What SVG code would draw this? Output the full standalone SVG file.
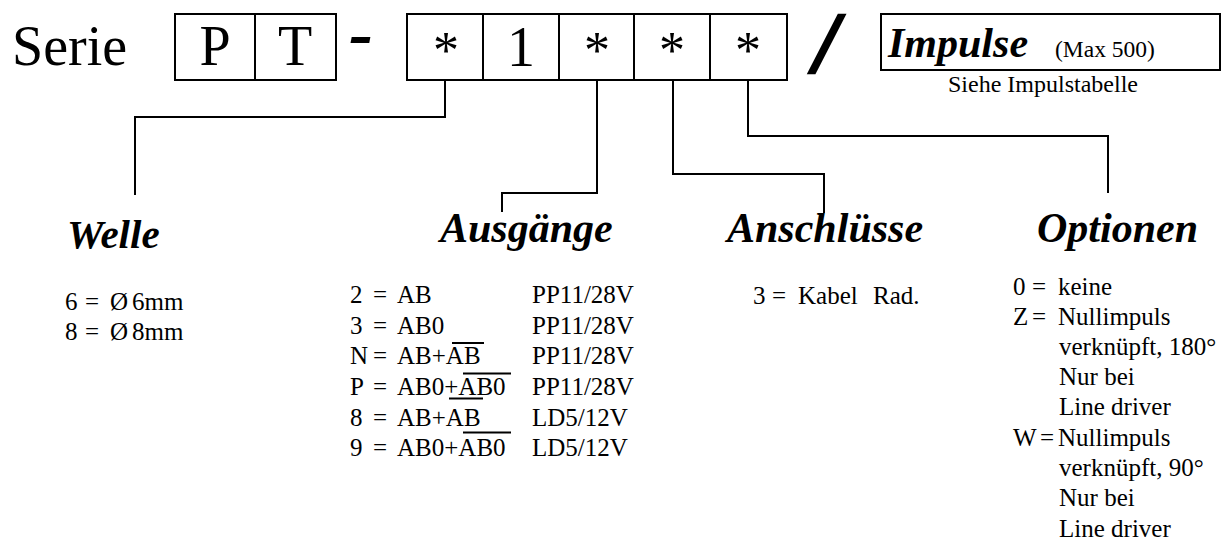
<svg xmlns="http://www.w3.org/2000/svg" width="1228" height="554" viewBox="0 0 1228 554">
<style>
text{font-family:"Liberation Serif","Times New Roman",serif;fill:#000}
.big{font-size:56px}
.ast{font-size:52px}
.hd{font-size:42px;font-weight:bold;font-style:italic}
.t{font-size:25px}
.box{fill:none;stroke:#000;stroke-width:2}
.ln{fill:none;stroke:#000;stroke-width:2}
.c{text-anchor:middle}
</style>
<rect width="1228" height="554" fill="#fff"/>
<g id="title">
<text class="big" x="12" y="65">Serie</text>
</g>
<g id="box-pt">
<rect class="box" x="175" y="14" width="161" height="66"/>
<line class="box" x1="255" y1="14" x2="255" y2="80"/>
<text class="big c" x="215" y="65">P</text>
<text class="big c" x="295" y="65">T</text>
</g>
<g id="dash">
<text x="349" y="57" style="font-size:72px;font-weight:bold;font-style:italic">-</text>
</g>
<g id="box-code">
<rect class="box" x="407" y="14" width="380" height="66"/>
<line class="box" x1="483" y1="14" x2="483" y2="80"/>
<line class="box" x1="559" y1="14" x2="559" y2="80"/>
<line class="box" x1="634" y1="14" x2="634" y2="80"/>
<line class="box" x1="710" y1="14" x2="710" y2="80"/>
<text class="ast c" x="446" y="68">*</text>
<text class="big c" x="521" y="66">1</text>
<text class="ast c" x="597" y="68">*</text>
<text class="ast c" x="672" y="68">*</text>
<text class="ast c" x="748" y="68">*</text>
</g>
<g id="slash">
<text x="814" y="72" style="font-size:86px;font-weight:bold;font-style:italic;stroke:#000;stroke-width:2.5">/</text>
</g>
<g id="impulse">
<rect class="box" x="881" y="14" width="339" height="56"/>
<text class="hd" x="888" y="57">Impulse</text>
<text x="1055" y="57" style="font-size:23.5px">(Max 500)</text>
<text x="948" y="92" style="font-size:24px">Siehe Impulstabelle</text>
</g>
<g id="connectors">
<path class="ln" d="M445 80V117H135V195"/>
<path class="ln" d="M597 80V193H502V212"/>
<path class="ln" d="M673 80V174H824V213"/>
<path class="ln" d="M748 80V136H1108V193"/>
</g>
<g id="welle">
<text class="hd" x="67" y="248" style="font-size:41px">Welle</text>
<text class="t" x="65" y="310">6</text><text class="t" x="85" y="310">=</text><text class="t" x="110" y="310">Ø</text><text class="t" x="132" y="310">6mm</text>
<text class="t" x="65" y="340">8</text><text class="t" x="85" y="340">=</text><text class="t" x="110" y="340">Ø</text><text class="t" x="132" y="340">8mm</text>
</g>
<g id="ausgaenge">
<text class="hd" x="440" y="242">Ausgänge</text>
<text class="t" x="350" y="303">2</text><text class="t" x="373" y="303">=</text><text class="t" x="397" y="303">AB</text><text class="t" x="532" y="303">PP11/28V</text>
<text class="t" x="350" y="334">3</text><text class="t" x="373" y="334">=</text><text class="t" x="397" y="334">AB0</text><text class="t" x="532" y="334">PP11/28V</text>
<text class="t" x="350" y="364">N</text><text class="t" x="373" y="364">=</text><text class="t" x="397" y="364">AB+AB</text><text class="t" x="532" y="364">PP11/28V</text>
<text class="t" x="350" y="395">P</text><text class="t" x="373" y="395">=</text><text class="t" x="397" y="395">AB0+AB0</text><text class="t" x="532" y="395">PP11/28V</text>
<text class="t" x="350" y="426">8</text><text class="t" x="373" y="426">=</text><text class="t" x="397" y="426">AB+AB</text><text class="t" x="532" y="426">LD5/12V</text>
<text class="t" x="350" y="456">9</text><text class="t" x="373" y="456">=</text><text class="t" x="397" y="456">AB0+AB0</text><text class="t" x="532" y="456">LD5/12V</text>
<line class="ln" x1="452" y1="343" x2="484" y2="343"/>
<line class="ln" x1="463" y1="373.5" x2="511" y2="373.5"/>
<line class="ln" x1="449" y1="398.5" x2="483" y2="398.5"/>
<line class="ln" x1="463" y1="432.5" x2="511" y2="432.5"/>
</g>
<g id="anschluesse">
<text class="hd" x="727" y="242">Anschlüsse</text>
<text class="t" x="753" y="304">3</text><text class="t" x="772" y="304">=</text><text class="t" x="798" y="304">Kabel</text><text class="t" x="873" y="304">Rad.</text>
</g>
<g id="optionen">
<text class="hd" x="1037" y="242">Optionen</text>
<text class="t" x="1013" y="295">0</text><text class="t" x="1032" y="295">=</text><text class="t" x="1058" y="295">keine</text>
<text class="t" x="1013" y="325">Z</text><text class="t" x="1032" y="325">=</text><text class="t" x="1058" y="325">Nullimpuls</text>
<text class="t" x="1059" y="355">verknüpft, 180°</text>
<text class="t" x="1059" y="385">Nur bei</text>
<text class="t" x="1059" y="415">Line driver</text>
<text class="t" x="1013" y="446">W</text><text class="t" x="1040" y="446">=</text><text class="t" x="1058" y="446">Nullimpuls</text>
<text class="t" x="1059" y="476">verknüpft, 90°</text>
<text class="t" x="1059" y="506">Nur bei</text>
<text class="t" x="1059" y="537">Line driver</text>
</g>
</svg>
